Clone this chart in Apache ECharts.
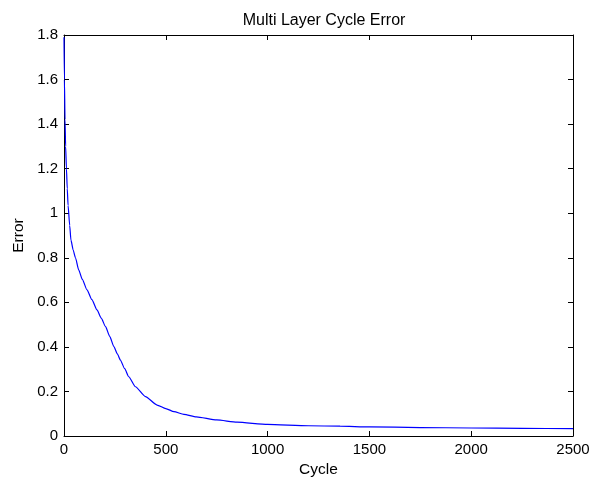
<!DOCTYPE html>
<html>
<head>
<meta charset="utf-8">
<style>
  * { margin: 0; padding: 0; }
  #container { width: 598px; height: 478px; background: #fff; }
</style>
</head>
<body>
<div id="container"></div>
<script src="https://cdn.jsdelivr.net/npm/echarts@6/dist/echarts.min.js"></script>
<script>
// values
var cycles = [0, 2, 5, 8, 12, 16, 20, 28, 34, 45, 56, 72, 90, 113, 137, 162, 183, 204, 225, 245,
              262, 277, 298, 318, 351, 400, 457, 500, 540, 589, 650, 750, 850, 1000, 1200, 1356,
              1500, 1750, 2000, 2250, 2500];
var errors = [1.79, 1.60, 1.42, 1.30, 1.20, 1.11, 1.035, 0.945, 0.880, 0.835, 0.801, 0.746, 0.703,
              0.656, 0.612, 0.566, 0.529, 0.491, 0.446, 0.401, 0.369, 0.341, 0.302, 0.266, 0.221,
              0.177, 0.139, 0.123, 0.109, 0.097, 0.086, 0.072, 0.062, 0.052, 0.046, 0.044, 0.041,
              0.038, 0.036, 0.034, 0.033];
var xTicks = [0, 500, 1000, 1500, 2000, 2500];
var yTicks = [0, 0.2, 0.4, 0.6, 0.8, 1, 1.2, 1.4, 1.6, 1.8];

var dom = document.getElementById("container");
var myChart = echarts.init(dom);
var font = "'Liberation Sans', Arial, Helvetica, sans-serif";
var fs = 15;

var points = [];
for (var i = 0; i < cycles.length; i++) {
    points.push([cycles[i], errors[i]]);
}

function axisBase(show) {
    return {
        type: "value",
        axisLine: { show: true, onZero: false, lineStyle: { color: "#000", width: 1 } },
        axisTick: { show: true, inside: true, length: 5, lineStyle: { color: "#000" } },
        splitLine: { show: false },
        axisLabel: { show: show, color: "#000", fontSize: fs, fontFamily: font }
    };
}

var xMain = axisBase(true);
xMain.min = xTicks[0];
xMain.max = xTicks[xTicks.length - 1];
xMain.interval = 500;
xMain.position = "bottom";
xMain.name = "Cycle";
xMain.nameLocation = "middle";
xMain.nameGap = 24;
xMain.nameTextStyle = { color: "#000", fontSize: 15.5, fontFamily: font };
xMain.axisLabel.margin = 6;
xMain.axisLabel.formatter = function (v) { return String(v); };

var xTop = axisBase(false);
xTop.min = xMain.min; xTop.max = xMain.max; xTop.interval = 500;
xTop.position = "top";

var yMain = axisBase(true);
yMain.min = yTicks[0];
yMain.max = yTicks[yTicks.length - 1];
yMain.interval = 0.2;
yMain.position = "left";
yMain.name = "Error";
yMain.nameLocation = "middle";
yMain.nameGap = 31;
yMain.nameTextStyle = { color: "#000", fontSize: 15.5, fontFamily: font };
yMain.axisLabel.margin = 6;
yMain.axisLabel.formatter = function (v) { return String(Math.round(v * 10) / 10); };

var yRight = axisBase(false);
yRight.min = yMain.min; yRight.max = yMain.max; yRight.interval = 0.2;
yRight.position = "right";

var option = {
    animation: false,
    backgroundColor: "#fff",
    title: {
        text: "Multi Layer Cycle Error",
        left: 319,
        textAlign: "center",
        top: 8,
        textStyle: { color: "#000", fontSize: 16, fontWeight: "normal", fontFamily: font }
    },
    grid: { left: 64, right: 25, top: 35, bottom: 42, containLabel: false, outerBoundsMode: "none" },
    xAxis: [xMain, xTop],
    yAxis: [yMain, yRight],
    series: [{
        type: "line",
        data: points,
        showSymbol: false,
        smooth: 0.2,
        smoothMonotone: "x",
        lineStyle: { color: "#0000ff", width: 1.2 },
        itemStyle: { color: "#0000ff" }
    }]
};

myChart.setOption(option);
</script>
</body>
</html>
